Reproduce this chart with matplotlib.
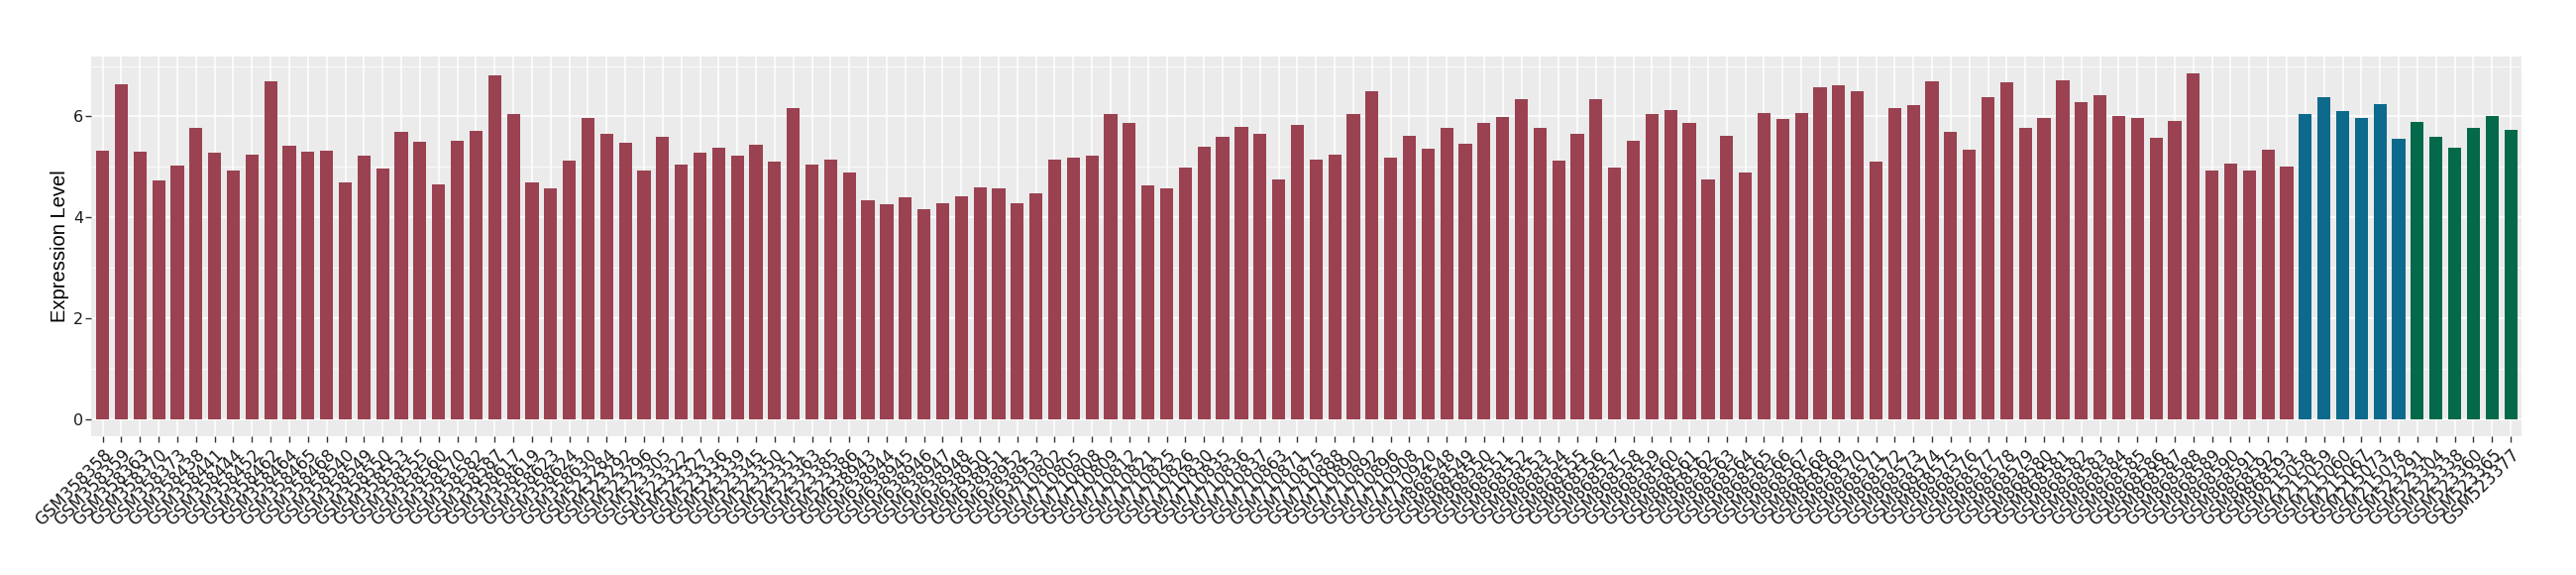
import matplotlib
matplotlib.use("Agg")
import matplotlib.pyplot as plt
from matplotlib.ticker import MultipleLocator

# sample ids, grouped by colour
red_ids = [
    "GSM358358", "GSM358359", "GSM358363", "GSM358370", "GSM358373", "GSM358438",
    "GSM358441", "GSM358444", "GSM358452", "GSM358462", "GSM358464", "GSM358465",
    "GSM358468", "GSM358540", "GSM358549", "GSM358550", "GSM358553", "GSM358555",
    "GSM358560", "GSM358570", "GSM358582", "GSM358587", "GSM358617", "GSM358619",
    "GSM358623", "GSM358624", "GSM358630",
    "GSM523284", "GSM523292", "GSM523296", "GSM523305", "GSM523322", "GSM523327",
    "GSM523336", "GSM523339", "GSM523345", "GSM523350", "GSM523351", "GSM523363",
    "GSM523385", "GSM523386",
    "GSM638943", "GSM638944", "GSM638945", "GSM638946", "GSM638947", "GSM638948",
    "GSM638950", "GSM638951", "GSM638952", "GSM638953",
    "GSM710802", "GSM710805", "GSM710808", "GSM710809", "GSM710812", "GSM710821",
    "GSM710825", "GSM710826", "GSM710830", "GSM710835", "GSM710836", "GSM710837",
    "GSM710863", "GSM710871", "GSM710875", "GSM710888", "GSM710890", "GSM710892",
    "GSM710896", "GSM710908", "GSM710920",
] + ["GSM8685%02d" % n for n in range(48, 94)]
red_vals = [
    5.32, 6.63, 5.31, 4.73, 5.02, 5.78, 5.28, 4.92, 5.25, 6.70, 5.42, 5.30,
    5.32, 4.70, 5.22, 4.97, 5.70, 5.50, 4.65, 5.52, 5.72, 6.82, 6.05, 4.70,
    4.58, 5.12, 5.97,
    5.65, 5.48, 4.93, 5.60, 5.05, 5.28, 5.38, 5.22, 5.43, 5.10, 6.17, 5.05,
    5.15, 4.88,
    4.33, 4.27, 4.40, 4.17, 4.28, 4.42, 4.60, 4.58, 4.28, 4.47,
    5.15, 5.18, 5.22, 6.05, 5.88, 4.63, 4.58, 4.98, 5.40, 5.60, 5.80, 5.65,
    4.75, 5.83, 5.15, 5.25, 6.05, 6.50, 5.18, 5.62, 5.37,
    5.78, 5.45, 5.88, 5.98, 6.35, 5.78, 5.13, 5.65, 6.35, 4.98, 5.52, 6.05,
    6.12, 5.88, 4.75, 5.62, 4.88, 6.07, 5.95, 6.07, 6.58, 6.62, 6.50, 5.10,
    6.17, 6.22, 6.70, 5.70, 5.35, 6.38, 6.67, 5.78, 5.97, 6.72, 6.28, 6.42,
    6.00, 5.97, 5.58, 5.92, 6.85, 4.93, 5.07, 4.93, 5.35, 5.00,
]
blue_ids = ["GSM215058", "GSM215059", "GSM215060", "GSM215067", "GSM215073", "GSM215078"]
blue_vals = [6.05, 6.38, 6.10, 5.97, 6.25, 5.55]
green_ids = ["GSM523291", "GSM523304", "GSM523338", "GSM523360", "GSM523365", "GSM523377"]
green_vals = [5.90, 5.60, 5.38, 5.77, 6.00, 5.73]

groups = [
    (red_ids, red_vals, "#9A4251"),
    (blue_ids, blue_vals, "#0E6A8C"),
    (green_ids, green_vals, "#03694A"),
]

fig = plt.figure(figsize=(26, 5.8), dpi=100)
ax = fig.add_axes([0.0355, 0.241, 0.9435, 0.661])
ax.set_facecolor("#EBEBEB")

labels = []
start = 0
for ids, vals, col in groups:
    xs = list(range(start, start + len(ids)))
    ax.bar(xs, vals, width=0.7, color=col, zorder=3)
    labels += ids
    start += len(ids)

n = len(labels)
ax.set_xlim(-0.6, n - 1 + 0.6)
ax.set_ylim(-0.34, 7.19)
ax.set_xticks(range(n))
ax.set_xticklabels(labels, rotation=45, ha="right", va="top",
                   rotation_mode="anchor", fontsize=12, color="#1A1A1A")
ax.set_yticks([0, 2, 4, 6])
ax.yaxis.set_minor_locator(MultipleLocator(1))
ax.tick_params(axis="y", labelsize=11.5, labelcolor="#1A1A1A", pad=2)
ax.tick_params(axis="x", pad=3)
ax.tick_params(axis="both", which="major", length=4, width=1, color="#333333")
ax.tick_params(axis="y", which="minor", length=0)

ax.grid(True, which="major", color="white", linewidth=1.1, zorder=0)
ax.grid(True, which="minor", axis="y", color="white", linewidth=0.55, zorder=0)
ax.set_axisbelow(True)
for s in ax.spines.values():
    s.set_visible(False)

ax.set_ylabel("Expression Level", fontsize=14.5, family="Liberation Sans", labelpad=3)
plt.savefig("out.png", dpi=100)
plt.close()
